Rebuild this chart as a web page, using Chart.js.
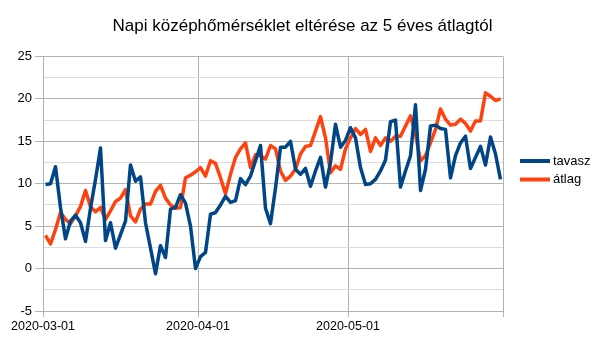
<!DOCTYPE html>
<html>
<head>
<meta charset="utf-8">
<script src="https://cdn.jsdelivr.net/npm/chart.js@4"></script>
<style>
  html, body { margin: 0; padding: 0; background: #fff; }
  #wrap { width: 605px; height: 340px; }
</style>
</head>
<body>
<div id="wrap"><canvas id="myChart" width="605" height="340"></canvas></div>
<script>
// napi eltérések (2020-03-01 .. 2020-05-31)
const tavasz = [
  9.9, 10.0, 12.0, 7.2, 3.5, 5.6, 6.3, 5.4, 3.2, 7.1,
  10.5, 14.2, 3.3, 5.4, 2.4, 4.0, 5.6, 12.2, 10.3, 10.8,
  5.4, 2.4, -0.6, 2.7, 1.3, 7.0, 7.2, 8.7, 7.7, 5.0,
  0.0, 1.4, 1.9, 6.4, 6.6, 7.5, 8.5, 7.8, 8.0, 10.6,
  9.9, 10.9, 12.7, 14.5, 7.1, 5.3, 9.5, 14.3, 14.3, 15.0,
  11.7, 11.1, 11.8, 9.7, 11.5, 13.1, 9.6, 12.5, 17.0, 14.3,
  15.1, 16.6, 15.4, 11.9, 9.9, 10.0, 10.5, 11.5, 12.8, 17.3,
  17.5, 9.6, 11.5, 13.3, 19.3, 9.2, 11.7, 16.8, 16.9, 16.5,
  16.4, 10.7, 13.3, 14.8, 15.6, 11.8, 13.1, 14.4, 12.2, 15.5,
  13.5, 10.5
];
const atlag = [
  3.9, 2.9, 4.6, 6.6, 5.8, 5.3, 6.2, 7.3, 9.2, 7.3,
  6.7, 7.2, 5.8, 6.8, 7.9, 8.3, 9.3, 6.2, 5.5, 7.0,
  7.6, 7.6, 9.1, 9.8, 8.3, 7.5, 7.1, 7.2, 10.7, 11.0,
  11.4, 11.9, 10.9, 12.7, 12.4, 10.7, 8.8, 11.1, 13.1, 14.1,
  14.8, 11.9, 13.4, 13.3, 12.9, 14.5, 14.1, 11.5, 10.4, 10.9,
  11.7, 13.5, 14.4, 14.5, 16.2, 17.9, 15.4, 11.3, 12.1, 11.7,
  14.1, 15.4, 16.5, 15.8, 16.4, 13.8, 15.4, 14.5, 15.4, 15.0,
  15.6, 15.6, 16.8, 18.0, 15.8, 12.7, 13.3, 14.8, 16.4, 18.8,
  17.6, 16.9, 17.0, 17.6, 17.1, 16.2, 17.4, 17.4, 20.7, 20.3,
  19.8, 20.0
];
// tengely feliratok
const xTickValues = [-0.5, 30.5, 60.5, 91.5];
const xTickLabels = ["2020-03-01", "2020-04-01", "2020-05-01", ""];

const FONT = "'Liberation Sans', Arial, sans-serif";
const MAJOR = "#b3b3b3";
const MINOR = "#dddddd";

function toPoints(values) {
  return values.map((v, i) => ({ x: i, y: v }));
}

// jelmagyarázat a rajzterület jobb oldalán
const sideLegend = {
  id: "sideLegend",
  afterDraw(chart) {
    const c = chart.ctx;
    const x0 = chart.chartArea.right + 17;
    const y0 = chart.height / 2 - 9;
    c.save();
    c.font = "13px " + FONT;
    c.textBaseline = "middle";
    c.textAlign = "left";
    chart.data.datasets.forEach((ds, i) => {
      const y = y0 + i * 18.5;
      c.strokeStyle = ds.borderColor;
      c.lineWidth = 4;
      c.lineCap = "butt";
      c.beginPath();
      c.moveTo(x0, y);
      c.lineTo(x0 + 30, y);
      c.stroke();
      c.fillStyle = "#000";
      c.fillText(ds.label, x0 + 33, y);
    });
    c.restore();
  },
};

const ctx = document.getElementById("myChart").getContext("2d");
const chart = new Chart(ctx, {
  type: "line",
  data: {
    datasets: [
      {
        label: "tavasz",
        data: toPoints(tavasz),
        borderColor: "#004586",
        borderWidth: 3.5,
        pointRadius: 0,
        tension: 0,
        borderJoinStyle: "round",
      },
      {
        label: "átlag",
        data: toPoints(atlag),
        borderColor: "#ff420e",
        borderWidth: 3.5,
        pointRadius: 0,
        tension: 0,
        borderJoinStyle: "round",
      },
    ],
  },
  plugins: [sideLegend],
  options: {
    responsive: false,
    animation: false,
    devicePixelRatio: 1,
    layout: { padding: { left: 10, right: 10, top: 0, bottom: 4 } },
    plugins: {
      title: {
        display: true,
        text: "Napi középhőmérséklet eltérése az 5 éves átlagtól",
        color: "#000",
        font: { family: FONT, size: 17, weight: "normal" },
        padding: { top: 16, bottom: 20 },
      },
      legend: { display: false },
      tooltip: { enabled: false },
    },
    scales: {
      x: {
        type: "linear",
        min: -0.5,
        max: 91.5,
        afterBuildTicks: function (axis) {
          axis.ticks = xTickValues.map((v) => ({ value: v }));
        },
        ticks: {
          autoSkip: false,
          maxRotation: 0,
          padding: 2,
          color: "#000",
          font: { family: FONT, size: 12.5 },
          callback: function (value) {
            const i = xTickValues.indexOf(value);
            return i >= 0 ? xTickLabels[i] : "";
          },
        },
        grid: { color: MAJOR, tickLength: 6, tickColor: MAJOR },
        border: { color: MAJOR },
      },
      y: {
        min: -5,
        max: 25,
        afterFit: function (scale) {
          scale.width = 33;
        },
        ticks: {
          stepSize: 2.5,
          padding: 3,
          color: "#000",
          font: { family: FONT, size: 13 },
          callback: function (value) {
            return value % 5 === 0 ? value : "";
          },
        },
        grid: {
          tickLength: 8,
          color: function (c) {
            return c.tick && c.tick.value % 5 === 0 ? MAJOR : MINOR;
          },
          tickColor: function (c) {
            return c.tick && c.tick.value % 5 === 0 ? MAJOR : "rgba(0,0,0,0)";
          },
        },
        border: { color: MAJOR },
      },
      // hely a jelmagyarázatnak
      legendSpace: {
        type: "linear",
        position: "right",
        display: true,
        grid: { display: false },
        ticks: { display: false },
        border: { display: false },
        afterFit: function (scale) {
          scale.width = 92;
        },
      },
    },
  },
});
</script>
</body>
</html>
